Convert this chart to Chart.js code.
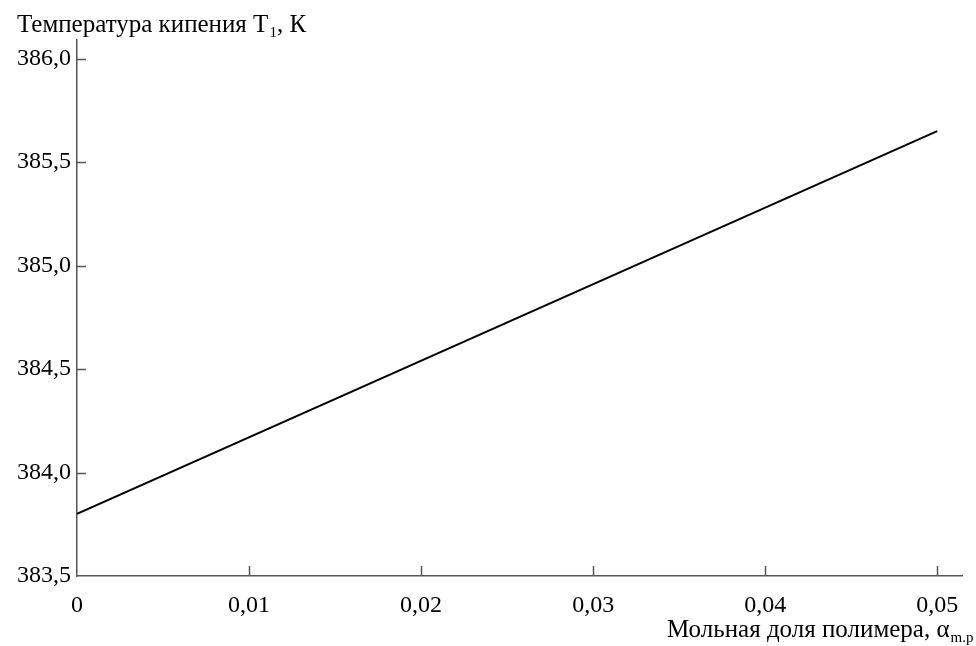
<!DOCTYPE html>
<html>
<head>
<meta charset="utf-8">
<script src="https://cdn.jsdelivr.net/npm/chart.js@4"></script>
<style>
  html, body { margin: 0; padding: 0; background: #fff; }
  #wrap { width: 976px; height: 646px; }
</style>
</head>
<body>
<div id="wrap"><canvas id="chart" width="976" height="646"></canvas></div>
<script>
// data
const fractions = [0, 0.05];
const temps = [383.80, 385.65];
const xTicks = [0, 0.01, 0.02, 0.03, 0.04, 0.05];
const yTicks = [383.5, 384.0, 384.5, 385.0, 385.5, 386.0];

const yTitle = ['Температура кипения T', '1', ', К'];
const xTitle = ['Мольная доля полимера, α', 'm.p', ''];

const serif = '"Liberation Serif", "Times New Roman", serif';
const axisColor = '#555';

// text with a subscript in the middle
function drawSubText(ctx, parts, x, y, size) {
  const big = size + 'px ' + serif;
  const small = Math.round(size * 0.6) + 'px ' + serif;
  ctx.font = big;
  const w0 = ctx.measureText(parts[0]).width;
  ctx.font = small;
  const w1 = ctx.measureText(parts[1]).width;
  ctx.fillStyle = '#000';
  ctx.textBaseline = 'alphabetic';
  ctx.textAlign = 'left';
  ctx.font = big;
  ctx.fillText(parts[0], x, y);
  ctx.font = small;
  ctx.fillText(parts[1], x + w0 + 1, y + size * 0.18);
  ctx.font = big;
  ctx.fillText(parts[2], x + w0 + w1 + 1, y);
}

const decorations = {
  id: 'decorations',
  afterDraw(chart) {
    const ctx = chart.ctx;
    const xs = chart.scales.x, ys = chart.scales.y;
    const area = chart.chartArea;
    ctx.save();
    ctx.strokeStyle = axisColor;
    ctx.lineWidth = 1.5;
    ctx.beginPath();
    xTicks.forEach(v => {
      if (v === xTicks[0]) return;
      const px = Math.round(xs.getPixelForValue(v)) + 0.5;
      ctx.moveTo(px, area.bottom);
      ctx.lineTo(px, area.bottom - 10);
    });
    yTicks.forEach(v => {
      if (v === yTicks[0]) return;
      const py = Math.round(ys.getPixelForValue(v)) + 0.5;
      ctx.moveTo(area.left, py);
      ctx.lineTo(area.left + 9, py);
    });
    ctx.stroke();
    drawSubText(ctx, yTitle, 17, 32, 25);
    drawSubText(ctx, xTitle, 667, 637, 25);
    ctx.restore();
  }
};

new Chart(document.getElementById('chart'), {
  type: 'scatter',
  data: {
    datasets: [{
      data: fractions.map((f, i) => ({ x: f, y: temps[i] })),
      showLine: true,
      borderColor: '#000',
      borderWidth: 2,
      pointRadius: 0,
      tension: 0
    }]
  },
  options: {
    responsive: false,
    animation: false,
    layout: { padding: { top: 40, right: 14, left: 0, bottom: 0 } },
    plugins: { legend: { display: false }, tooltip: { enabled: false } },
    scales: {
      x: {
        type: 'linear',
        min: 0,
        max: 0.05144,
        afterBuildTicks: s => { s.ticks = xTicks.map(v => ({ value: v })); },
        afterFit: s => { s.height = 70; },
        grid: { display: false, drawTicks: false },
        border: { display: true, color: axisColor, width: 1.5 },
        ticks: {
          color: '#000',
          padding: 15,
          maxRotation: 0,
          font: { family: serif, size: 24 },
          callback: v => v === 0 ? '0' : v.toFixed(2).replace('.', ',')
        }
      },
      y: {
        min: 383.5,
        max: 386.09,
        afterBuildTicks: s => { s.ticks = yTicks.map(v => ({ value: v })); },
        afterFit: s => { s.width = 77; },
        grid: { display: false, drawTicks: false },
        border: { display: true, color: axisColor, width: 1.5 },
        ticks: {
          color: '#000',
          padding: 6,
          font: { family: serif, size: 24 },
          callback: v => v.toFixed(1).replace('.', ',')
        }
      }
    }
  },
  plugins: [decorations]
});
</script>
</body>
</html>
